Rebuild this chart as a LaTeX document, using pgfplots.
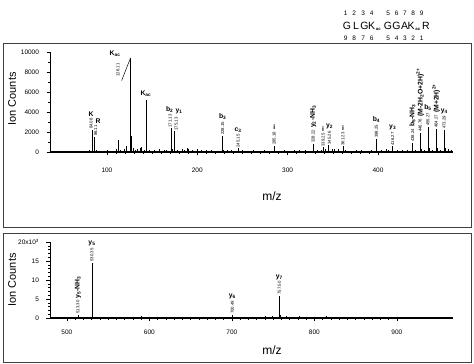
\documentclass[border=0pt]{standalone}
\usepackage{fontspec}
\setmainfont{Liberation Sans}
\usepackage{pgfplots}
\pgfplotsset{compat=1.18}
\newcommand{\numf}{\fontsize{4.3}{4.5}\selectfont}
\newcommand{\letf}{\fontsize{6.8}{7}\selectfont\bfseries}
% peak label: x, y, number, letter (letter horizontal)
\newcommand{\pk}[4]{%
  \node[rotate=90,anchor=west,font=\numf,inner sep=0.8pt] (tmp) at (axis cs:#1,#2) {#3};
  \node[anchor=south,font=\letf,inner sep=0.8pt] at (tmp.east) {#4};}
% peak label with rotated letter text
\newcommand{\pkr}[4]{%
  \node[rotate=90,anchor=west,font=\numf,inner sep=0.8pt] (tmp) at (axis cs:#1,#2) {#3};
  \node[rotate=90,anchor=west,font=\letf,inner sep=0.8pt] at (tmp.east) {#4};}
\pgfplotsset{
  spec/.style={
    scale only axis,
    axis x line*=bottom, axis y line*=left,
    axis line style={-, black},
    x axis line style={line width=1.1pt},
    tick align=outside,
    major tick length=3.5pt, minor tick length=2pt,
    tick style={black, line width=0.6pt},
    minor tick style={line width=0.5pt},
    minor x tick num=9,
    scaled y ticks=false,
    tick label style={font=\fontsize{6.5}{7}\selectfont},
    /pgf/number format/assume math mode=true,
    /pgf/number format/1000 sep={},
    clip=false,
  }
}
\begin{document}
\begin{tikzpicture}
\path[use as bounding box] (0pt,0pt) rectangle (474pt,364pt);

% sequence header
\foreach \n/\xx in {1/345.7,2/354.3,3/363.3,4/371.7,5/388.3,6/396.7,7/405,8/413.3,9/421.7}
  \node[font=\fontsize{6.5}{7}\selectfont, inner sep=0pt] at (\xx pt,351pt) {\n};
\foreach \n/\xx in {9/345.7,8/354.3,7/363.3,6/371.7,5/388.3,4/396.7,3/405,2/413.3,1/421.7}
  \node[font=\fontsize{6.5}{7}\selectfont, inner sep=0pt] at (\xx pt,326pt) {\n};
\foreach \l/\xx in {G/347,L/356,G/364.5,K/371.5,G/388,G/396.5,A/404.5,K/411,R/426}
  \node[font=\fontsize{10.5}{11}\selectfont, inner sep=0pt] at (\xx pt,338pt) {\l};
\node[font=\fontsize{4.3}{5}\selectfont\bfseries, inner sep=0pt] at (378.3pt,335pt) {ac};
\node[font=\fontsize{4.3}{5}\selectfont\bfseries, inner sep=0pt] at (417.8pt,335pt) {ac};

% axis titles
\node[rotate=90, font=\fontsize{11}{12}\selectfont] at (12pt,265pt) {Ion Counts};
\node[font=\fontsize{12}{13}\selectfont] at (272pt,168pt) {m/z};
\node[rotate=90, font=\fontsize{11}{12}\selectfont] at (12pt,84pt) {Ion Counts};
\node[font=\fontsize{12}{13}\selectfont] at (272pt,14pt) {m/z};

% ---------------- top spectrum ----------------
\begin{axis}[spec,
  at={(50pt,212pt)}, anchor=south west, width=403pt, height=100pt,
  xmin=37, xmax=483, ymin=0, ymax=10000,
  xtick={100,200,300,400},
  ytick={0,2000,4000,6000,8000,10000},
  minor y tick num=1,
  xticklabel style={yshift=-9pt},
  yticklabel style={xshift=-4pt},
]
\addplot[ycomb, black, line width=0.7pt, mark=none] coordinates {
(40,80)(45,100)(52,120)(58,90)(63,110)(70,130)(76,100)(80,150)
(84.08,2200)(86.11,1500)(88,150)(92,120)(97,100)(101,150)(105,120)
(110,300)(112.5,1200)(115,200)(119,250)(122,600)(126.11,9400)(127.3,1550)
(129,350)(131,200)(134,250)(136.5,350)(138,450)(141,200)(143.1,5150)
(144.1,450)(147,200)(152,150)(158,250)(163,150)(166,200)(171.13,2350)
(172.2,250)(175.13,2050)(178,150)(183,250)(186,200)(189,350)(190,300)
(195,150)(200,250)(205,150)(210,200)(216,150)(222,120)(228.15,1600)
(229.2,200)(233,150)(238,150)(245.15,350)(250,150)(256,120)(262,150)
(268,120)(274,150)(280,120)(285.18,600)(290,120)(296,150)(301,120)
(307,150)(313,150)(320,150)(328.22,800)(333,150)(337,200)(339.3,450)
(342,300)(345.26,650)(349,250)(352,250)(356,300)(361.2,550)(364,150)
(370,120)(376,150)(382,150)(388,120)(393,150)(398.25,1300)(404,150)
(409,300)(412,150)(416.27,550)(421,150)(427,150)(432,150)(438.24,900)
(441,200)(446.76,1900)(448,300)(451,200)(455.27,2500)(456.3,400)
(460,200)(464.27,2300)(465.3,400)(469,200)(473.29,2200)(474.3,400)
(478,250)(481,150)
};
% labels
\node[rotate=90,font=\numf,inner sep=0.8pt] at (axis cs:112.2,8200) {126.11};
\node[font=\letf,inner sep=0.5pt] at (axis cs:109,9850) {K\textsubscript{ac}};
\draw[line width=0.5pt] (axis cs:116.3,7150) -- (axis cs:126.11,9400);
\node[font=\letf,inner sep=0.5pt,anchor=south] at (axis cs:143.1,5500) {K\textsubscript{ac}};
\pk{82.4}{2200}{84.08}{K}
\node[rotate=90,anchor=west,font=\numf,inner sep=0.8pt] (tmp) at (axis cs:87.6,1500) {86.11};
\node[anchor=south west,font=\letf,inner sep=0.8pt] at ([xshift=-1pt]tmp.east) {R};
\node[rotate=90,anchor=west,font=\numf,inner sep=0.8pt] (tmp) at (axis cs:170.0,2350) {171.13};
\node[anchor=south,font=\letf,inner sep=0.8pt] at ([xshift=-0.5pt]tmp.east) {b\textsubscript{2}};
\node[rotate=90,anchor=west,font=\numf,inner sep=0.8pt] (tmp) at (axis cs:176.6,2050) {175.13};
\node[anchor=south,font=\letf,inner sep=0.8pt] at ([xshift=3pt,yshift=1.5pt]tmp.east) {y\textsubscript{1}};
\pk{228.15}{1600}{228.15}{b\textsubscript{3}}
\pk{245.15}{350}{245.15}{c\textsubscript{3}}
\pk{285.18}{600}{285.18}{i}
\pkr{328.22}{800}{328.22}{y\textsubscript{2}-NH\textsubscript{3}}
\pk{339.3}{450}{339.25}{i}
\pk{346.3}{650}{345.26}{y\textsubscript{2}}
\pk{361.2}{550}{361.23}{i}
\pk{398.25}{1300}{398.25}{b\textsubscript{4}}
\pk{416.27}{550}{416.27}{y\textsubscript{3}}
\pkr{438.24}{900}{438.24}{b\textsubscript{5}-NH\textsubscript{3}}
\pkr{446.76}{1900}{446.76}{(M-2H\textsubscript{2}O+2H)\textsuperscript{2+}}
\pk{455.27}{2500}{455.27}{b\textsubscript{5}}
\pkr{464.27}{2300}{464.27}{(M+2H)\textsuperscript{2+}}
\pk{473.29}{2200}{473.29}{y\textsubscript{4}}
\end{axis}

% ---------------- bottom spectrum ----------------
\begin{axis}[spec,
  at={(50pt,46pt)}, anchor=south west, width=403pt, height=76pt,
  xmin=479.5, xmax=968, ymin=0, ymax=20000,
  xtick={500,600,700,800,900},
  ytick={0,5000,10000,15000,20000},
  yticklabels={0,5,10,15,{20x10\textsuperscript{3}}},
  minor y tick num=4,
  xticklabel style={yshift=-5pt},
  yticklabel style={xshift=-4pt},
]
\addplot[ycomb, black, line width=0.7pt, mark=none] coordinates {
(482,100)(486,80)(492,100)(498,80)(505,100)(510,150)(513.30,900)(515,200)
(520,150)(525,100)(530.35,14600)(531.35,3200)(533,300)(538,150)(545,200)
(552,150)(560,200)(566,150)(572,150)(580,200)(586,150)(590,500)(592,250)
(600,200)(608,150)(615,120)(622,150)(630,120)(640,150)(650,120)(660,150)
(670,120)(680,150)(690,150)(700.49,800)(701.5,300)(708,150)(715,150)
(720,300)(728,150)(735,200)(740,400)(745,200)(749,500)(752,200)
(757.50,5900)(758.5,800)(762,250)(766,400)(772,150)(778,200)(782,500)
(790,150)(798,150)(805,150)(815,400)(822,150)(830,120)(840,150)(850,120)
(860,150)(870,120)(880,150)(890,120)(900,150)(910,120)(920,150)(930,120)
(940,150)(950,120)(960,150)
};
\pkr{513.30}{900}{513.30}{y\textsubscript{5}-NH\textsubscript{3}}
\pk{530.35}{14600}{530.35}{y\textsubscript{5}}
\pk{700.49}{800}{700.49}{y\textsubscript{6}}
\pk{757.50}{5900}{757.50}{y\textsubscript{7}}
\end{axis}

% panel frames
\draw[line width=0.9pt, black!75] (3pt,137pt) rectangle (471pt,321pt);
\draw[line width=0.9pt, black!75] (3pt,2pt) rectangle (471pt,131pt);
\end{tikzpicture}
\end{document}
